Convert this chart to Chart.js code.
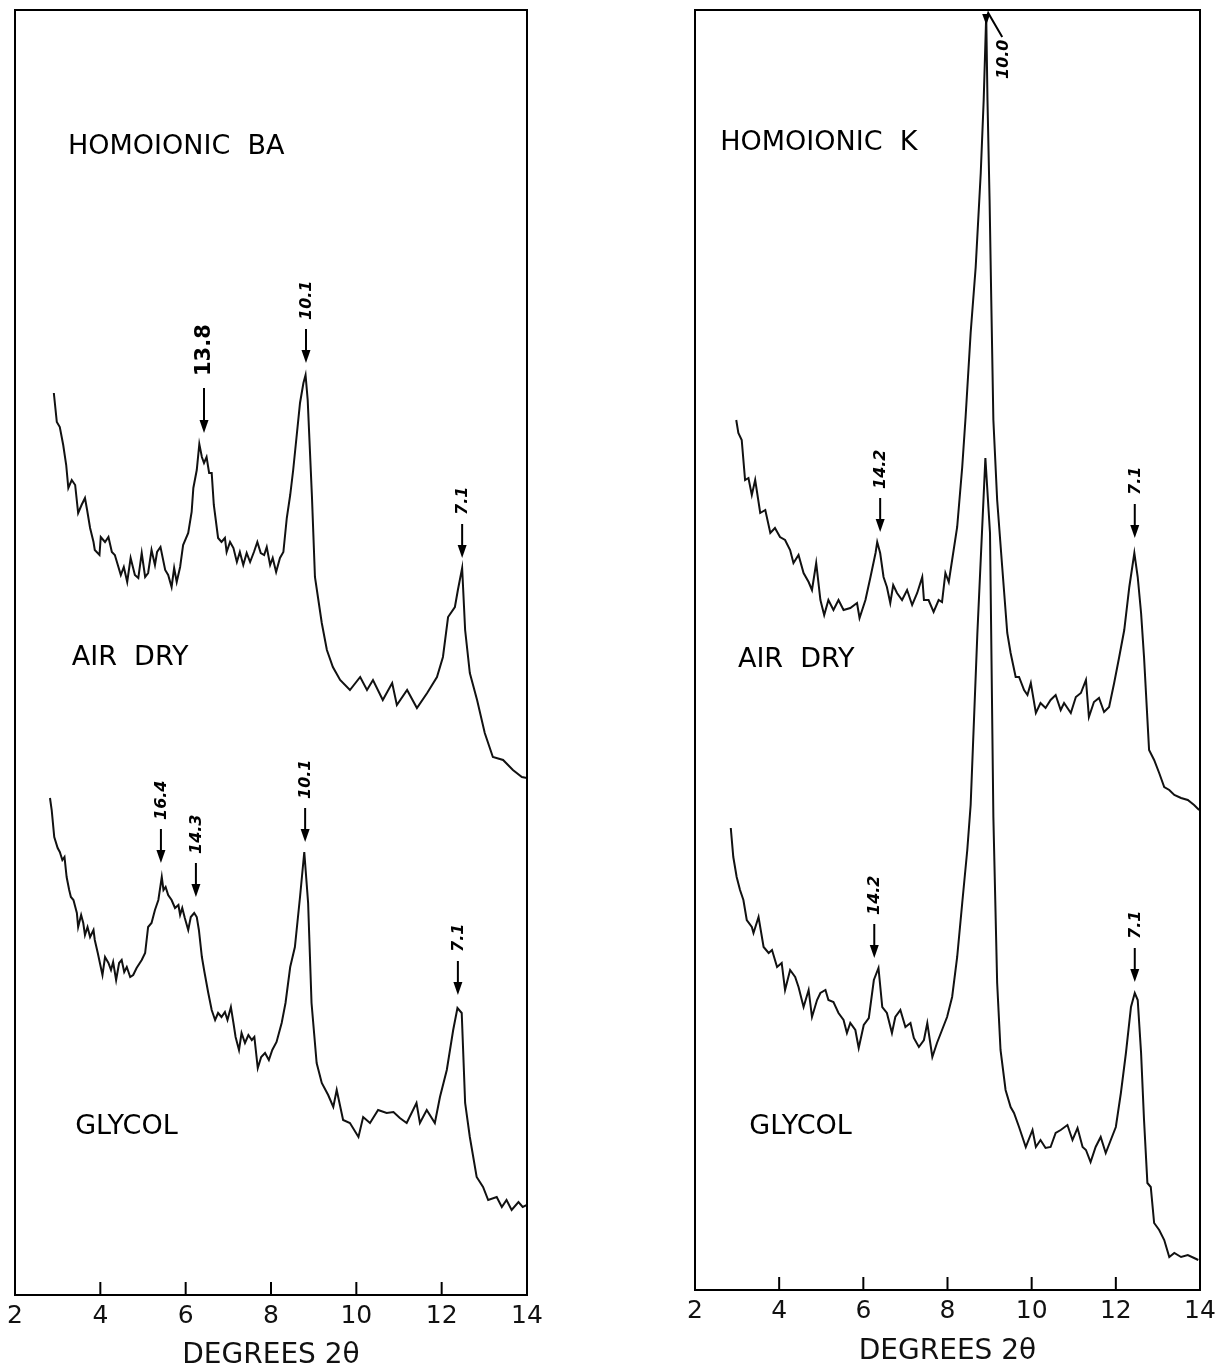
<!DOCTYPE html>
<html>
<head>
<meta charset="utf-8">
<script src="https://cdn.jsdelivr.net/npm/chart.js@4.4.1/dist/chart.umd.min.js"></script>
<style>
    html, body { margin: 0; padding: 0; background: #fff; overflow: hidden; }
    #left { position: absolute; left: 0; top: 0; }
    #right { position: absolute; left: 600px; top: 0; }
</style>
</head>
<body>
<canvas id="left" width="560" height="1363"></canvas>
<canvas id="right" width="625" height="1363"></canvas>
<script>
// degrees 2-theta, intensity (arbitrary units)
const baAirDeg = [2.91, 2.98, 3.05, 3.13, 3.20, 3.25, 3.33, 3.41, 3.48, 3.56,
    3.64, 3.69, 3.76, 3.84, 3.87, 3.98, 4.01, 4.11, 4.19, 4.27,
    4.34, 4.48, 4.55, 4.63, 4.71, 4.81, 4.89, 4.97, 5.05, 5.12,
    5.20, 5.28, 5.33, 5.41, 5.52, 5.59, 5.67, 5.73, 5.79, 5.87,
    5.94, 6.06, 6.14, 6.18, 6.26, 6.32, 6.38, 6.43, 6.49, 6.55,
    6.61, 6.66, 6.76, 6.84, 6.92, 6.96, 7.04, 7.12, 7.20, 7.27,
    7.35, 7.43, 7.51, 7.60, 7.68, 7.76, 7.84, 7.90, 7.98, 8.04,
    8.12, 8.21, 8.29, 8.37, 8.45, 8.52, 8.68, 8.76, 8.81, 8.86, 8.96,
    9.03, 9.19, 9.31, 9.45, 9.62, 9.85, 10.09, 10.25, 10.39, 10.62,
    10.84, 10.95, 11.19, 11.42, 11.66, 11.89, 12.03, 12.15, 12.31, 12.38,
    12.48, 12.55, 12.66, 12.83, 13.01, 13.20, 13.44, 13.67, 13.88, 14.0];
const baAirInt = [902, 873, 868, 850, 830, 807, 815, 810, 782, 790,
    797, 785, 767, 753, 745, 740, 758, 753, 758, 743,
    740, 720, 728, 713, 737, 720, 717, 742, 718, 722,
    745, 730, 743, 748, 725, 720, 708, 727, 713, 728,
    750, 762, 783, 807, 825, 851, 838, 832, 838, 822,
    822, 790, 757, 753, 757, 743, 753, 747, 733, 743,
    730, 742, 733, 743, 753, 742, 740, 748, 730, 737,
    723, 737, 743, 777, 800, 825, 892, 912, 920, 895, 798,
    718, 672, 645, 628, 615, 605, 618, 605, 615, 595,
    612, 590, 605, 587, 602, 618, 638, 678, 688, 705,
    727, 665, 622, 595, 562, 538, 535, 525, 518, 517];

const baGlyDeg = [2.82, 2.86, 2.92, 3.00, 3.05, 3.11, 3.16, 3.21, 3.27, 3.31,
    3.37, 3.45, 3.48, 3.55, 3.60, 3.64, 3.70, 3.76, 3.84, 3.87,
    3.94, 3.99, 4.05, 4.11, 4.19, 4.25, 4.30, 4.37, 4.44, 4.50,
    4.56, 4.62, 4.70, 4.77, 4.85, 4.97, 5.05, 5.12, 5.20, 5.28,
    5.36, 5.44, 5.48, 5.53, 5.59, 5.67, 5.75, 5.83, 5.87, 5.92,
    5.98, 6.06, 6.12, 6.20, 6.26, 6.31, 6.38, 6.44, 6.53, 6.61,
    6.69, 6.76, 6.84, 6.92, 6.98, 7.06, 7.12, 7.17, 7.25, 7.31,
    7.39, 7.47, 7.55, 7.61, 7.69, 7.77, 7.86, 7.95, 8.03, 8.13,
    8.25, 8.34, 8.45, 8.56, 8.68, 8.78, 8.87, 8.95, 9.07, 9.19,
    9.34, 9.46, 9.54, 9.69, 9.85, 10.05, 10.16, 10.32, 10.51, 10.71,
    10.87, 11.02, 11.18, 11.41, 11.49, 11.65, 11.84, 11.96, 12.12, 12.27,
    12.37, 12.47, 12.55, 12.66, 12.82, 12.97, 13.09, 13.29, 13.41, 13.52,
    13.64, 13.80, 13.90, 14.0];
const baGlyInt = [497, 485, 458, 447, 443, 435, 438, 418, 405, 398,
    395, 382, 368, 380, 372, 360, 368, 358, 365, 355,
    342, 332, 320, 338, 332, 325, 333, 315, 332, 335,
    323, 328, 318, 320, 327, 335, 342, 368, 372, 385,
    395, 418, 405, 408, 400, 395, 387, 390, 380, 387,
    377, 365, 378, 382, 378, 365, 338, 323, 302, 285,
    275, 282, 278, 283, 275, 288, 272, 258, 245, 262,
    252, 260, 255, 258, 227, 238, 242, 235, 245, 253,
    272, 292, 328, 348, 398, 443, 392, 292, 232, 212,
    200, 188, 205, 175, 172, 158, 178, 172, 185, 182,
    183, 177, 172, 192, 172, 185, 172, 198, 225, 265,
    287, 282, 192, 158, 118, 108, 95, 98, 88, 95,
    85, 93, 88, 90];

const kAirDeg = [2.98, 3.03, 3.11, 3.19, 3.27, 3.35, 3.43, 3.55, 3.67, 3.79,
    3.90, 4.02, 4.14, 4.26, 4.34, 4.46, 4.58, 4.70, 4.78, 4.88,
    4.98, 5.07, 5.17, 5.29, 5.41, 5.53, 5.69, 5.85, 5.91, 6.05,
    6.17, 6.29, 6.33, 6.40, 6.48, 6.56, 6.64, 6.71, 6.80, 6.92,
    7.04, 7.16, 7.28, 7.40, 7.44, 7.55, 7.67, 7.79, 7.87, 7.95,
    8.03, 8.11, 8.23, 8.35, 8.43, 8.55, 8.67, 8.79, 8.86, 8.92,
    8.95, 9.00, 9.04, 9.09, 9.18, 9.30, 9.42, 9.50, 9.62, 9.70,
    9.82, 9.90, 9.98, 10.10, 10.21, 10.33, 10.45, 10.57, 10.69, 10.77,
    10.93, 11.05, 11.17, 11.29, 11.36, 11.48, 11.60, 11.72, 11.84, 11.96,
    12.08, 12.20, 12.32, 12.44, 12.52, 12.60, 12.67, 12.79, 12.91, 13.03,
    13.15, 13.27, 13.39, 13.55, 13.71, 13.86, 13.98];
const kAirInt = [870, 857, 850, 810, 812, 795, 810, 777, 780, 757,
    762, 753, 750, 740, 727, 735, 717, 708, 700, 727,
    690, 675, 690, 680, 690, 680, 682, 687, 672, 690,
    713, 737, 748, 737, 713, 703, 687, 705, 697, 690,
    700, 685, 697, 713, 690, 690, 678, 690, 688, 717,
    708, 730, 763, 823, 873, 957, 1023, 1117, 1190, 1275,
    1190, 1090, 990, 870, 790, 723, 657, 637, 613, 613,
    600, 595, 607, 577, 587, 582, 590, 595, 580, 587,
    577, 593, 597, 610, 573, 588, 592, 578, 583, 607,
    633, 660, 703, 737, 713, 677, 633, 540, 530, 517,
    503, 500, 495, 492, 490, 485, 480];

const kGlyDeg = [2.85, 2.91, 2.99, 3.07, 3.15, 3.23, 3.35, 3.39, 3.51, 3.63,
    3.75, 3.83, 3.95, 4.06, 4.14, 4.26, 4.38, 4.46, 4.58, 4.70,
    4.78, 4.90, 4.98, 5.10, 5.17, 5.29, 5.41, 5.53, 5.61, 5.69,
    5.81, 5.89, 6.01, 6.13, 6.25, 6.36, 6.45, 6.56, 6.68, 6.76,
    6.88, 7.00, 7.12, 7.20, 7.32, 7.44, 7.52, 7.64, 7.75, 7.87,
    7.99, 8.11, 8.23, 8.35, 8.47, 8.55, 8.71, 8.90, 9.01, 9.09,
    9.18, 9.26, 9.38, 9.50, 9.58, 9.70, 9.86, 10.02, 10.10, 10.21,
    10.33, 10.45, 10.57, 10.69, 10.85, 10.97, 11.09, 11.21, 11.29, 11.40,
    11.52, 11.64, 11.76, 11.88, 12.00, 12.12, 12.24, 12.36, 12.45, 12.52,
    12.60, 12.67, 12.75, 12.83, 12.91, 13.03, 13.15, 13.27, 13.39, 13.55,
    13.71, 13.86, 13.96];
const kGlyInt = [462, 433, 413, 400, 390, 370, 363, 357, 373, 343,
    337, 340, 323, 327, 300, 320, 313, 303, 283, 300,
    273, 290, 297, 300, 290, 288, 277, 270, 257, 267,
    260, 242, 265, 272, 310, 322, 283, 277, 257, 273,
    280, 263, 267, 252, 243, 250, 267, 233, 247, 260,
    273, 293, 333, 387, 440, 485, 657, 832, 757, 473,
    307, 240, 200, 183, 177, 163, 143, 160, 143, 150,
    142, 143, 157, 160, 165, 150, 162, 143, 140, 128,
    143, 153, 137, 150, 163, 197, 237, 283, 297, 290,
    237, 170, 107, 103, 67, 60, 50, 33, 37, 33,
    35, 32, 30];

const tickValues = [2, 4, 6, 8, 10, 12, 14];

// d-spacings (angstrom) marked over the peaks
const baPeakLabels = ['13.8', '10.1', '7.1', '16.4', '14.3', '10.1', '7.1'];
const baPeakDeg = [6.43, 8.82, 12.48, 5.42, 6.24, 8.80, 12.38];
const baPeakTop = [862, 932, 737, 432, 398, 453, 300];

const kPeakLabels = ['10.0', '14.2', '7.1', '14.2', '7.1'];
const kPeakDeg = [8.92, 6.40, 12.45, 6.26, 12.45];
const kPeakTop = [1265, 758, 752, 332, 308];

const baTexts = ['HOMOIONIC  BA', 'AIR  DRY', 'GLYCOL'];
const baTextDeg = [3.24, 3.33, 3.41];
const baTextInt = [1148, 637, 168];

const kTexts = ['HOMOIONIC  K', 'AIR  DRY', 'GLYCOL'];
const kTextDeg = [2.60, 3.02, 3.29];
const kTextInt = [1147, 630, 163];

Chart.defaults.font.family = "'DejaVu Sans', sans-serif";
Chart.defaults.color = '#111';

function toPoints(xs, ys) {
    return xs.map((v, i) => ({ x: v, y: ys[i] }));
}

function drawArrow(ctx, px, tipY, len) {
    ctx.beginPath();
    ctx.moveTo(px, tipY - len);
    ctx.lineTo(px, tipY - 10);
    ctx.stroke();
    ctx.beginPath();
    ctx.moveTo(px, tipY);
    ctx.lineTo(px - 4.5, tipY - 13);
    ctx.lineTo(px + 4.5, tipY - 13);
    ctx.closePath();
    ctx.fill();
}

function drawUpText(ctx, text, px, bottomY, font) {
    ctx.save();
    ctx.translate(px, bottomY);
    ctx.rotate(-Math.PI / 2);
    ctx.font = font;
    ctx.textAlign = 'left';
    ctx.textBaseline = 'middle';
    ctx.fillText(text, 0, 0);
    ctx.restore();
}

const panelDecor = {
    id: 'panelDecor',
    afterDatasetsDraw(chart, args, opts) {
        const { ctx, chartArea: a } = chart;
        const xs = chart.scales.x, ys = chart.scales.y;
        ctx.save();
        ctx.strokeStyle = '#000';
        ctx.fillStyle = '#000';
        ctx.lineWidth = 2;
        ctx.strokeRect(a.left, a.top, a.right - a.left, a.bottom - a.top);

        // tick marks point into the box
        tickValues.slice(1, -1).forEach(v => {
            let px = xs.getPixelForValue(v);
            ctx.beginPath();
            ctx.moveTo(px, a.bottom);
            ctx.lineTo(px, a.bottom - 13);
            ctx.stroke();
        });

        opts.peakLabels.forEach((label, i) => {
            let px = xs.getPixelForValue(opts.peakDeg[i]);
            let tip = ys.getPixelForValue(opts.peakTop[i]);
            if (tip - a.top < 50) {
                // no room above: leader bends down to the right
                ctx.beginPath();
                ctx.moveTo(px + 16, tip + 12);
                ctx.lineTo(px + 2, tip - 12);
                ctx.lineTo(px, tip - 6);
                ctx.stroke();
                ctx.beginPath();
                ctx.moveTo(px, tip);
                ctx.lineTo(px - 4, tip - 11);
                ctx.lineTo(px + 4, tip - 11);
                ctx.closePath();
                ctx.fill();
                drawUpText(ctx, label, px + 18, tip + 54, 'italic bold 16px "DejaVu Sans"');
            } else if (label === opts.bigLabel) {
                drawArrow(ctx, px, tip, 45);
                drawUpText(ctx, label, px + 1, tip - 57, 'bold 21px "DejaVu Sans"');
            } else {
                drawArrow(ctx, px, tip, 34);
                drawUpText(ctx, label, px + 1, tip - 43, 'italic bold 16px "DejaVu Sans"');
            }
        });

        ctx.font = '27px "DejaVu Sans"';
        ctx.textAlign = 'left';
        ctx.textBaseline = 'middle';
        opts.texts.forEach((t, i) => {
            ctx.fillText(t, xs.getPixelForValue(opts.textDeg[i]), ys.getPixelForValue(opts.textInt[i]));
        });
        ctx.restore();
    }
};

function makeChart(id, series, yMax, pad, axisHeight, titlePad, decor) {
    return new Chart(document.getElementById(id), {
        type: 'line',
        data: {
            datasets: series.map(s => ({
                data: toPoints(s[0], s[1]),
                borderColor: '#111',
                borderWidth: 2,
                pointRadius: 0,
                tension: 0
            }))
        },
        options: {
            responsive: false,
            animation: false,
            devicePixelRatio: 1,
            layout: { padding: pad },
            plugins: {
                legend: { display: false },
                tooltip: { enabled: false },
                panelDecor: decor
            },
            scales: {
                x: {
                    type: 'linear',
                    min: 2,
                    max: 14,
                    afterBuildTicks: axis => { axis.ticks = tickValues.map(v => ({ value: v })); },
                    afterFit: axis => { axis.height = axisHeight; },
                    grid: { display: false, drawTicks: false },
                    border: { display: false },
                    ticks: { font: { size: 25 }, padding: 6, maxRotation: 0, color: '#111' },
                    title: {
                        display: true,
                        text: 'DEGREES 2\u03B8',
                        font: { size: 28, lineHeight: 0.55 },
                        padding: { top: 0, bottom: titlePad },
                        color: '#111'
                    }
                },
                y: { display: false, min: 0, max: yMax }
            }
        },
        plugins: [panelDecor]
    });
}

makeChart('left', [[baAirDeg, baAirInt], [baGlyDeg, baGlyInt]], 1285,
    { left: 15, right: 33, top: 10, bottom: 0 }, 68, 0,
    { peakLabels: baPeakLabels, peakDeg: baPeakDeg, peakTop: baPeakTop, bigLabel: '13.8',
      texts: baTexts, textDeg: baTextDeg, textInt: baTextInt });

makeChart('right', [[kAirDeg, kAirInt], [kGlyDeg, kGlyInt]], 1280,
    { left: 95, right: 25, top: 10, bottom: 0 }, 73, 4,
    { peakLabels: kPeakLabels, peakDeg: kPeakDeg, peakTop: kPeakTop,
      texts: kTexts, textDeg: kTextDeg, textInt: kTextInt });
</script>
</body>
</html>
